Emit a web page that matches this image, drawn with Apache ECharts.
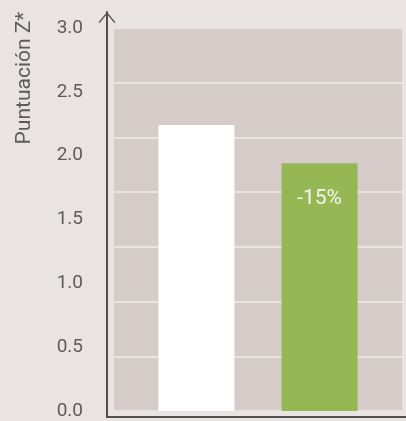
<!DOCTYPE html>
<html>
<head>
<meta charset="utf-8">
<script src="https://cdn.jsdelivr.net/npm/echarts@6/dist/echarts.min.js"></script>
<style>
html,body{margin:0;padding:0;background:#e9e4e3;}
#chart{width:406px;height:421px;}
</style>
</head>
<body>
<div id="chart"></div>
<script>
const categories = [''];
const seriesNames = ['Control', 'Intervención'];
const values = [2.24, 1.94];
const changeLabels = ['', '-15%'];
const yTicks = [0, 0.5, 1.0, 1.5, 2.0, 2.5, 3.0];
const yTitle = 'Puntuación Z*';

const barColors = ['#ffffff', '#95b854'];
const textColor = '#5c5c5c';
const axisColor = '#505050';
const font = 'Roboto';

const chart = echarts.init(document.getElementById('chart'), null, {renderer: 'canvas'});

const series = seriesNames.map((name, i) => ({
  name: name,
  type: 'bar',
  xAxisIndex: 1,
  yAxisIndex: 1,
  data: categories.map(() => values[i]),
  barWidth: 76,
  barGap: '62%',
  itemStyle: {color: barColors[i]},
  label: {
    show: changeLabels[i] !== '',
    position: 'insideTop',
    distance: 25,
    formatter: () => changeLabels[i],
    color: '#f4f4ee',
    fontSize: 21,
    fontFamily: font
  },
  silent: true
}));

chart.setOption({
  backgroundColor: '#e9e4e3',
  animation: false,
  grid: [
    {left: 107, right: 0, top: 12, bottom: 4},
    {left: 114, right: 4, top: 28, bottom: 10, show: true, backgroundColor: '#d5ccc9', borderWidth: 0}
  ],
  xAxis: [
    {gridIndex: 0, type: 'value', min: 0, max: 1,
     axisLine: {show: true, lineStyle: {color: axisColor, width: 2}},
     axisTick: {show: false}, axisLabel: {show: false}, splitLine: {show: false}},
    {gridIndex: 1, type: 'category', data: categories,
     axisLine: {show: false}, axisTick: {show: false}, axisLabel: {show: false}, splitLine: {show: false}}
  ],
  yAxis: [
    {gridIndex: 0, type: 'value', min: 0, max: 1,
     axisLine: {show: true, lineStyle: {color: axisColor, width: 2},
       symbol: ['none', 'path://M0,11 L9,0 L18,11 L16.8,11.7 L9,2.2 L1.2,11.7 Z'],
       symbolSize: [19, 11], symbolOffset: [0, -5.5]},
     axisTick: {show: false}, axisLabel: {show: false}, splitLine: {show: false}},
    {gridIndex: 1, type: 'value', min: yTicks[0], max: yTicks[yTicks.length - 1], interval: 0.5,
     axisLine: {show: false}, axisTick: {show: false}, splitLine: {show: false},
     axisLabel: {margin: 31, color: textColor, fontSize: 19, fontFamily: font,
       formatter: v => v.toFixed(1)}},
    {gridIndex: 1, type: 'value', min: 0, max: 7, interval: 1, position: 'right',
     axisLine: {show: false}, axisTick: {show: false}, axisLabel: {show: false},
     splitLine: {show: true, lineStyle: {color: '#e9e4e3', width: 2}}}
  ],
  graphic: [{
    type: 'text',
    x: 25, y: 78,
    rotation: Math.PI / 2,
    style: {text: yTitle, fill: textColor, font: '21px Roboto', textAlign: 'center', textVerticalAlign: 'middle'}
  }],
  series: series
});
</script>
</body>
</html>
